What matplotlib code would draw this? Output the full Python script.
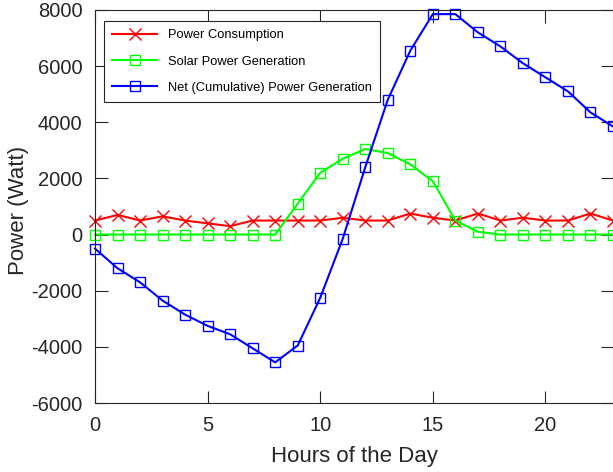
import numpy as np
from matplotlib import pyplot as plt

plt.rcParams['font.family'] = ['Liberation Sans', 'DejaVu Sans']
plt.rcParams['axes.unicode_minus'] = False

hours = np.arange(24)
consumption = [500, 700, 500, 650, 500, 400, 300, 500, 500, 500, 500, 600,
               500, 500, 750, 600, 500, 750, 500, 600, 500, 500, 750, 500]
solar = [0, 0, 0, 0, 0, 0, 0, 0, 0, 1100, 2200, 2700,
         3050, 2900, 2500, 1900, 500, 100, 0, 0, 0, 0, 0, 0]
net = [-500, -1200, -1700, -2350, -2850, -3250, -3550, -4050, -4550, -3950, -2250, -150,
       2400, 4800, 6550, 7850, 7850, 7200, 6700, 6100, 5600, 5100, 4350, 3850]

dark = '#262626'

fig = plt.figure(figsize=(6.13, 4.72), dpi=100)
ax = fig.add_axes([0.155, 0.146, 0.845, 0.833])

ax.plot(hours, consumption, color=(1, 0, 0), lw=1.5, marker='x', ms=8, mew=1,
        label="Power Consumption", clip_on=False)
ax.plot(hours, solar, color=(0, 1, 0), lw=1.5, marker='s', ms=7.5, mew=1, mfc='none',
        label="Solar Power Generation", clip_on=False)
ax.plot(hours, net, color=(0, 0, 1), lw=1.5, marker='s', ms=7.5, mew=1, mfc='none',
        label="Net (Cumulative) Power Generation", clip_on=False)

ax.set_xlim(0, 23)
ax.set_ylim(-6000, 8000)
ax.set_xticks([0, 5, 10, 15, 20])
ax.set_yticks(np.arange(-6000, 8001, 2000))
ax.tick_params(direction='in', length=9, width=0.8, top=True, right=True,
               labelsize=14.5, colors=dark, pad=9)
for s in ax.spines.values():
    s.set_color(dark)
    s.set_linewidth(0.8)

ax.set_xlabel("Hours of the Day", fontsize=16, color=dark, labelpad=8)
ax.set_ylabel("Power (Watt)", fontsize=16, color=dark)
ax.yaxis.set_label_coords(-0.127, 0.49)

leg = ax.legend(loc='upper left', bbox_to_anchor=(0.017, 0.972), fontsize=9.3,
                handlelength=3.5, labelspacing=1.1, borderaxespad=0,
                fancybox=False, framealpha=1, borderpad=0.65)
leg.get_frame().set_edgecolor(dark)
leg.get_frame().set_linewidth(0.8)

plt.savefig('out.png', dpi=100)
